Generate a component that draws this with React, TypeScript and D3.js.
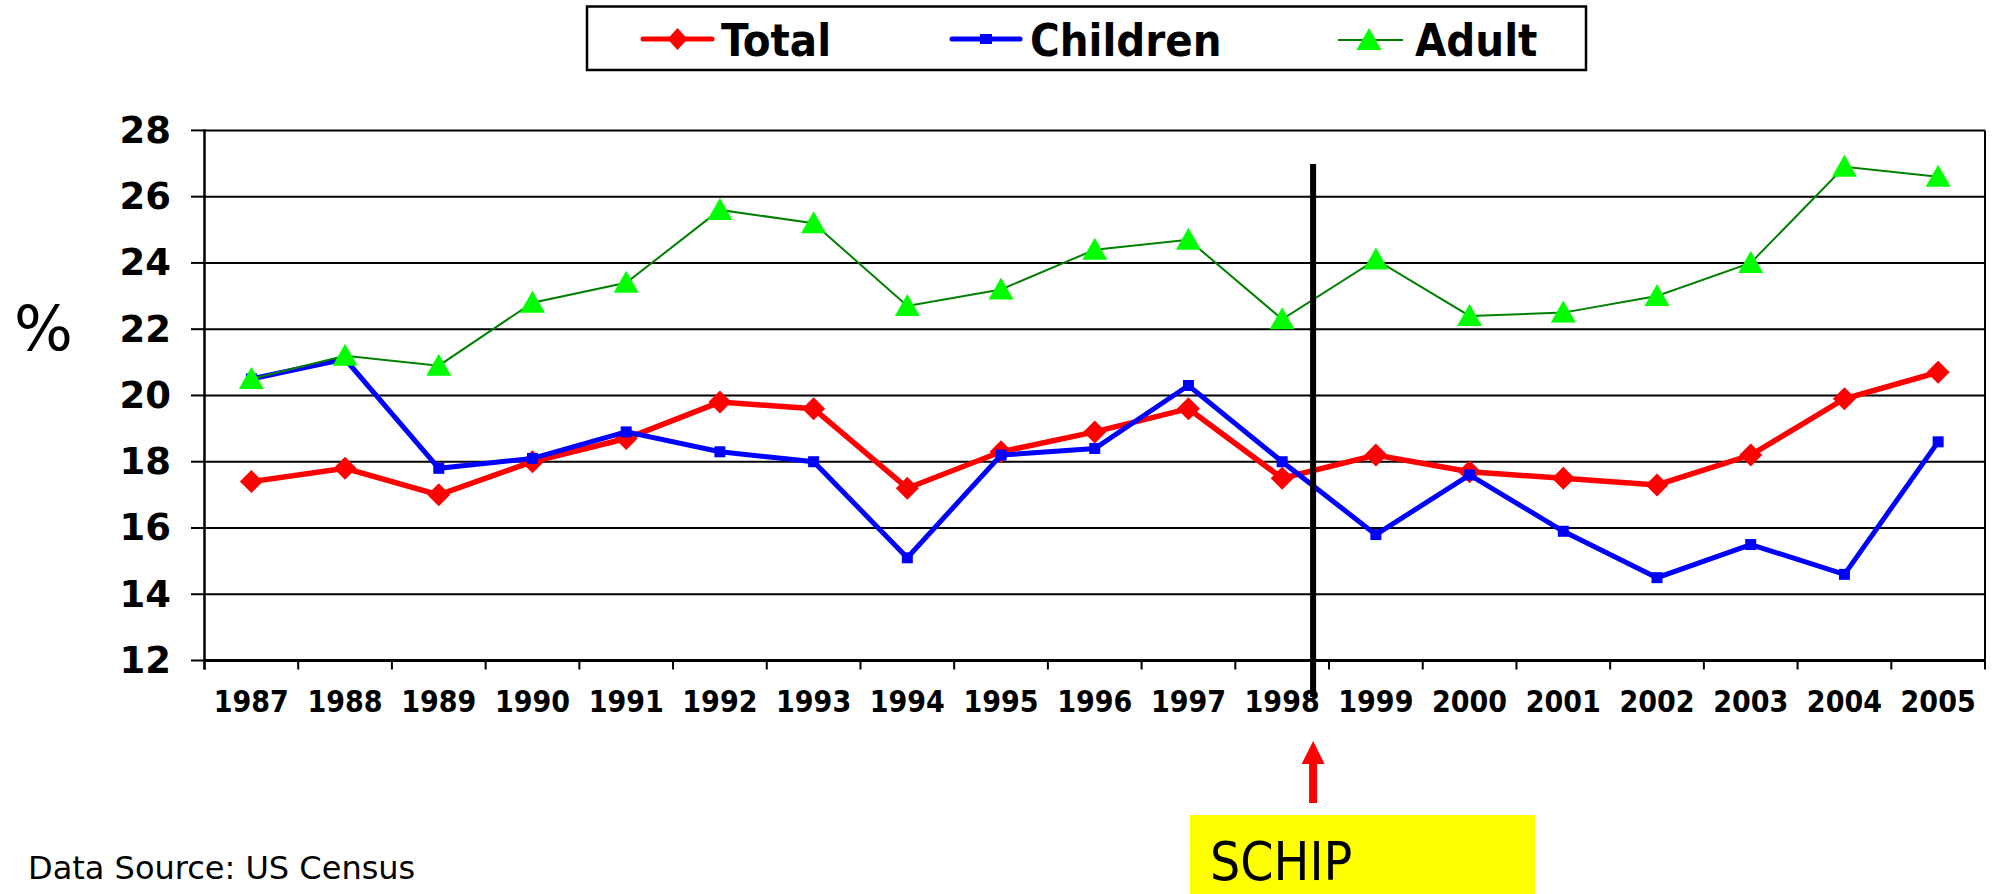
import React from 'react';
import * as d3 from 'd3';

const years = ['1987', '1988', '1989', '1990', '1991', '1992', '1993', '1994', '1995', '1996', '1997', '1998', '1999', '2000', '2001', '2002', '2003', '2004', '2005'];
const totalValues = [17.4, 17.8, 17.0, 18.0, 18.7, 19.8, 19.6, 17.2, 18.3, 18.9, 19.6, 17.5, 18.2, 17.7, 17.5, 17.3, 18.2, 19.9, 20.7];
const childrenValues = [20.5, 21.1, 17.8, 18.1, 18.9, 18.3, 18.0, 15.1, 18.2, 18.4, 20.3, 18.0, 15.8, 17.6, 15.9, 14.5, 15.5, 14.6, 18.6];
const adultValues = [20.5, 21.2, 20.9, 22.8, 23.4, 25.6, 25.2, 22.7, 23.2, 24.4, 24.7, 22.3, 24.1, 22.4, 22.5, 23.0, 24.0, 26.9, 26.6];
const yTicks = [12, 14, 16, 18, 20, 22, 24, 26, 28];
const seriesNames = ['Total', 'Children', 'Adult'];
const schipYear = '1998';

const BOLD_COND = '"DejaVu Sans Condensed", "DejaVu Sans", sans-serif';
const BOLD = '"DejaVu Sans", Verdana, sans-serif';

const diamond = 'M0,-11.5L11.5,0L0,11.5L-11.5,0Z';
const legendDiamond = 'M0,-11L10,0L0,11L-10,0Z';
const square = 'M-5.5,-5.5H5.5V5.5H-5.5Z';
const legendSquare = 'M-6,-5H6V5H-6Z';
const triangle = 'M0,-12L12.5,10L-12.5,10Z';

export default function App() {
  const x = d3.scaleBand<string>().domain(years).range([204.5, 1985]).padding(0);
  const y = d3.scaleLinear().domain([12, 28]).range([660.5, 130.4]);
  const bw = x.bandwidth();
  const cx = (yr: string) => (x(yr) as number) + bw / 2;

  const line = d3
    .line<number>()
    .x((_, i) => cx(years[i]))
    .y((d) => y(d));

  const plotLeft = 204.5;
  const plotRight = 1985;
  const plotTop = y(28);
  const plotBottom = y(12);
  const schipX = (x(schipYear) as number) + bw * 0.83;

  const boundaries = years.map((yr) => x(yr) as number).concat([plotRight]);

  return (
    <svg
      width={2004}
      height={894}
      style={{ position: 'absolute', left: 0, top: 0, background: '#fff' }}
    >
      <rect x={0} y={0} width={2004} height={894} fill="#fff" />

      {/* Legend */}
      <rect x={587} y={6.5} width={999} height={63.5} fill="#fff" stroke="#000" strokeWidth={2.5} />
      <g>
        <line x1={643} x2={712} y1={39} y2={39} stroke="#ff0000" strokeWidth={5} strokeLinecap="round" />
        <path d={legendDiamond} transform="translate(677.5,39)" fill="#ff0000" />
        <text x={721} y={56} fontFamily={BOLD_COND} fontWeight="bold" fontSize={45} fill="#000">
          {seriesNames[0]}
        </text>
        <line x1={952} x2={1020} y1={39} y2={39} stroke="#0000ff" strokeWidth={5} strokeLinecap="round" />
        <path d={legendSquare} transform="translate(986,39)" fill="#0000ff" />
        <text x={1030} y={56} fontFamily={BOLD_COND} fontWeight="bold" fontSize={45} fill="#000">
          {seriesNames[1]}
        </text>
        <line x1={1338} x2={1403} y1={40} y2={40} stroke="#008000" strokeWidth={2} />
        <path d={triangle} transform="translate(1369,40)" fill="#00ff00" />
        <text x={1415} y={56} fontFamily={BOLD_COND} fontWeight="bold" fontSize={45} fill="#000">
          {seriesNames[2]}
        </text>
      </g>

      {/* Gridlines */}
      {yTicks.map((t) => (
        <line key={'g' + t} x1={plotLeft} x2={plotRight} y1={y(t)} y2={y(t)} stroke="#000" strokeWidth={2} />
      ))}
      {/* Right border */}
      <line x1={plotRight} x2={plotRight} y1={plotTop} y2={plotBottom} stroke="#000" strokeWidth={2} />

      {/* Y axis */}
      <line x1={plotLeft} x2={plotLeft} y1={plotTop - 1} y2={plotBottom + 9} stroke="#000" strokeWidth={2.5} />
      {yTicks.map((t) => (
        <g key={'yt' + t}>
          <line x1={191} x2={plotLeft} y1={y(t)} y2={y(t)} stroke="#000" strokeWidth={2} />
          <text
            x={171}
            y={y(t)}
            textAnchor="end"
            dominantBaseline="central"
            fontFamily={BOLD}
            fontWeight="bold"
            fontSize={37}
            fill="#000"
          >
            {t}
          </text>
        </g>
      ))}
      <text x={14} y={328} dominantBaseline="central" fontFamily={BOLD} fontSize={62} fill="#000">
        %
      </text>

      {/* X axis */}
      <line x1={plotLeft} x2={plotRight} y1={plotBottom} y2={plotBottom} stroke="#000" strokeWidth={3} />
      {boundaries.map((b, i) => (
        <line key={'xt' + i} x1={b} x2={b} y1={plotBottom} y2={plotBottom + 9} stroke="#000" strokeWidth={2} />
      ))}
      {years.map((yr) => (
        <text
          key={'xl' + yr}
          x={cx(yr)}
          y={701}
          textAnchor="middle"
          dominantBaseline="central"
          fontFamily={BOLD_COND}
          fontWeight="bold"
          fontSize={30}
          fill="#000"
        >
          {yr}
        </text>
      ))}

      {/* Total */}
      <path d={line(totalValues) || ''} fill="none" stroke="#ff0000" strokeWidth={5.5} strokeLinejoin="miter" />
      {totalValues.map((v, i) => (
        <path key={'tm' + i} d={diamond} transform={`translate(${cx(years[i])},${y(v)})`} fill="#ff0000" />
      ))}

      {/* Children */}
      <path d={line(childrenValues) || ''} fill="none" stroke="#0000ff" strokeWidth={5} strokeLinejoin="miter" />
      {childrenValues.map((v, i) => (
        <path key={'cm' + i} d={square} transform={`translate(${cx(years[i])},${y(v)})`} fill="#0000ff" />
      ))}

      {/* Adult */}
      <path d={line(adultValues) || ''} fill="none" stroke="#008000" strokeWidth={2} />
      {adultValues.map((v, i) => (
        <path key={'am' + i} d={triangle} transform={`translate(${cx(years[i])},${y(v)})`} fill="#00ff00" />
      ))}

      {/* SCHIP vertical line */}
      <line x1={schipX} x2={schipX} y1={164} y2={697} stroke="#000" strokeWidth={6} />

      {/* Arrow */}
      <rect x={schipX - 4} y={762} width={8} height={41} fill="#ff0000" />
      <path d={`M${schipX},741L${schipX + 11.5},764L${schipX - 11.5},764Z`} fill="#ff0000" />

      {/* SCHIP box */}
      <rect x={1190} y={815} width={345} height={79} fill="#ffff00" />
      <text x={1210} y={880} fontFamily={BOLD_COND} fontSize={53} fill="#000">
        SCHIP
      </text>

      {/* Source */}
      <text x={28} y={879} fontFamily={BOLD} fontSize={32} fill="#000">
        Data Source: US Census
      </text>
    </svg>
  );
}
